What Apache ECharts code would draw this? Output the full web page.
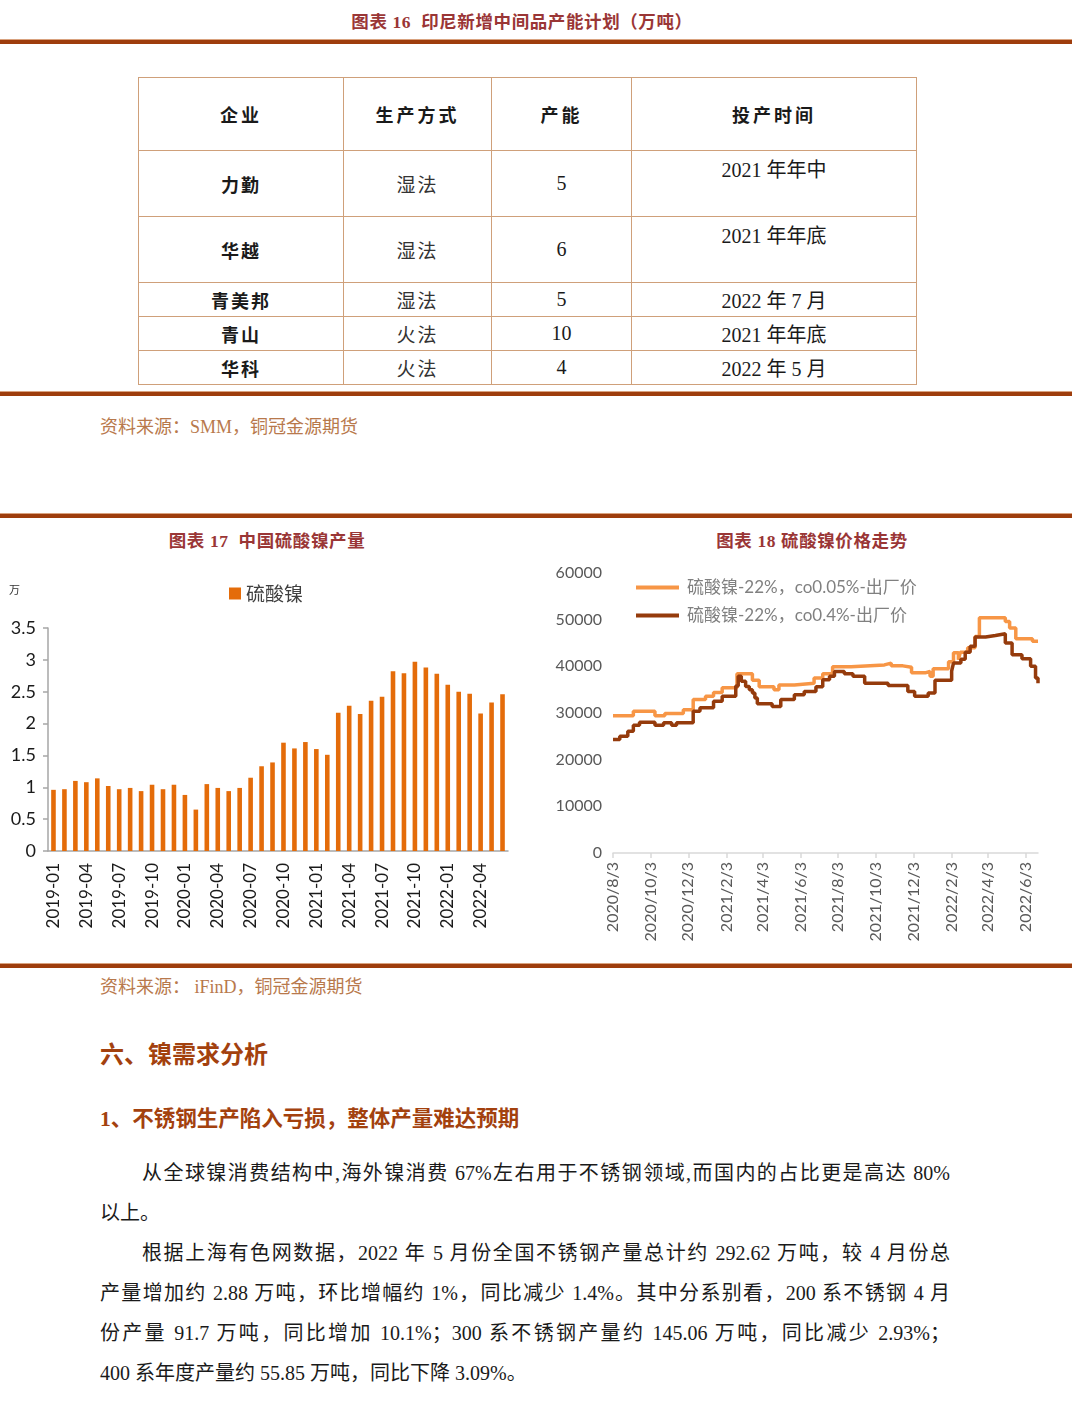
<!DOCTYPE html>
<html><head><meta charset="utf-8">
<script src="https://cdn.jsdelivr.net/npm/echarts@6/dist/echarts.min.js"></script>
<style>
html,body{margin:0;padding:0;background:#fff;}
#page{position:relative;width:1080px;height:1410px;overflow:hidden;font-family:"Liberation Serif","Noto Sans CJK SC",serif;color:#1a1a1a;}
.rule{position:absolute;left:0;width:1072px;height:4px;background:#9E3D0D;border-top:1px solid #D9A27F;}
.ttl{position:absolute;font-family:"Liberation Serif","Noto Sans CJK SC";font-weight:bold;color:#9A3636;font-size:17.5px;white-space:nowrap;transform:translate(-50%,-50%);letter-spacing:0.6px;}
.src{position:absolute;left:100px;font-size:18px;color:#B8794C;white-space:nowrap;transform:translateY(-50%);}
.h1{position:absolute;left:100px;font-family:"Noto Sans CJK SC";font-weight:bold;font-size:24px;color:#A3410E;white-space:nowrap;transform:translateY(-50%);}
.h2{position:absolute;left:100px;font-family:"Liberation Serif","Noto Sans CJK SC";font-weight:bold;font-size:21.5px;color:#A3410E;white-space:nowrap;transform:translateY(-50%);}
.ln{position:absolute;height:40px;line-height:40px;font-size:20px;color:#1a1a1a;white-space:normal;}
.just{text-align:justify;text-align-last:justify;}
#tbl{position:absolute;left:138px;top:77px;border-collapse:collapse;table-layout:fixed;width:778px;}
#tbl td,#tbl th{border:1.5px solid #CFA07A;text-align:center;vertical-align:middle;padding:0;font-size:20px;}
#tbl th{font-family:"Noto Sans CJK SC";font-weight:bold;font-size:18px;letter-spacing:3px;}
#tbl td.c0{font-family:"Noto Sans CJK SC";font-weight:bold;font-size:18px;letter-spacing:2px;}
#tbl td.cm{font-family:"Noto Sans CJK SC";font-size:19px;color:#333;letter-spacing:2px;}
#tbl td.top{vertical-align:top;padding-top:3px;}
</style>
</head><body>
<div id="page">
  <div class="ttl" style="left:522px;top:20px;">图表 16&nbsp; 印尼新增中间品产能计划（万吨）</div>
  <div class="rule" style="top:39px;"></div>
  <table id="tbl"></table>
  <div class="rule" style="top:391px;"></div>
  <div class="src" style="top:425px;">资料来源：SMM，铜冠金源期货</div>
  <div class="rule" style="top:513px;"></div>
  <div class="ttl" style="left:267px;top:539px;">图表 17&nbsp; 中国硫酸镍产量</div>
  <div class="ttl" style="left:812px;top:539px;">图表 18 硫酸镍价格走势</div>
  <div id="c1" style="position:absolute;left:0;top:560px;width:530px;height:390px;"></div>
  <div id="c2" style="position:absolute;left:540px;top:560px;width:540px;height:390px;"></div>
  <div class="rule" style="top:963px;"></div>
  <div class="src" style="top:985px;">资料来源： iFinD，铜冠金源期货</div>
  <div class="h1" style="top:1052px;">六、镍需求分析</div>
  <div class="h2" style="top:1116px;">1、不锈钢生产陷入亏损，整体产量难达预期</div>
  <div class="ln just" style="left:142px;width:808px;top:1153px;">从全球镍消费结构中,海外镍消费 67%左右用于不锈钢领域,而国内的占比更是高达 80%</div>
  <div class="ln" style="left:100px;top:1193px;">以上。</div>
  <div class="ln just" style="left:142px;width:808px;top:1233px;">根据上海有色网数据，2022 年 5 月份全国不锈钢产量总计约 292.62 万吨，较 4 月份总</div>
  <div class="ln just" style="left:100px;width:850px;top:1273px;">产量增加约 2.88 万吨，环比增幅约 1%，同比减少 1.4%。其中分系别看，200 系不锈钢 4 月</div>
  <div class="ln just" style="left:100px;width:850px;top:1313px;">份产量 91.7 万吨，同比增加 10.1%；300 系不锈钢产量约 145.06 万吨，同比减少 2.93%；</div>
  <div class="ln" style="left:100px;top:1353px;">400 系年度产量约 55.85 万吨，同比下降 3.09%。</div>
</div>
<script>
// ---------- Table data ----------
const tableHeader = ['企业', '生产方式', '产能', '投产时间'];
const tableCompany = ['力勤', '华越', '青美邦', '青山', '华科'];
const tableMethod = ['湿法', '湿法', '湿法', '火法', '火法'];
const tableCapacity = ['5', '6', '5', '10', '4'];
const tableTime = ['2021 年年中', '2021 年年底', '2022 年 7 月', '2021 年年底', '2022 年 5 月'];

// ---------- Chart 17 data ----------
const barCategories = ['2019-01','2019-02','2019-03','2019-04','2019-05','2019-06','2019-07','2019-08','2019-09','2019-10','2019-11','2019-12',
  '2020-01','2020-02','2020-03','2020-04','2020-05','2020-06','2020-07','2020-08','2020-09','2020-10','2020-11','2020-12',
  '2021-01','2021-02','2021-03','2021-04','2021-05','2021-06','2021-07','2021-08','2021-09','2021-10','2021-11','2021-12',
  '2022-01','2022-02','2022-03','2022-04','2022-05','2022-06'];
const barValues = [0.96,0.97,1.10,1.08,1.14,1.02,0.97,0.99,0.94,1.04,0.97,1.04,
  0.88,0.65,1.05,0.99,0.94,0.99,1.15,1.33,1.39,1.70,1.61,1.71,
  1.60,1.51,2.17,2.28,2.15,2.36,2.42,2.82,2.79,2.97,2.88,2.78,
  2.61,2.50,2.47,2.16,2.33,2.46];

// ---------- Chart 18 data ----------
const lineXTickLabels = ['2020/8/3','2020/10/3','2020/12/3','2021/2/3','2021/4/3','2021/6/3','2021/8/3','2021/10/3','2021/12/3','2022/2/3','2022/4/3','2022/6/3'];
const lineXMin = '2020/8/3';
const lineXMax = '2022/6/23';
const lightName = '硫酸镍-22%，co0.05%-出厂价';
const lightDates = ['2020/8/3','2020/9/5','2020/10/10','2020/10/26','2020/11/25','2020/12/11','2020/12/31','2021/1/13','2021/1/27','2021/2/20','2021/3/17','2021/3/28','2021/4/21','2021/4/29','2021/5/24','2021/6/25','2021/7/9','2021/7/25','2021/8/24','2021/10/17','2021/10/28','2021/11/16','2021/11/30','2021/12/22','2021/12/30','2022/1/4','2022/1/29','2022/2/6','2022/2/14','2022/2/17','2022/3/1','2022/3/13','2022/3/20','2022/5/1','2022/5/8','2022/5/18','2022/6/14','2022/6/23'];
const lightValues = [29400,30400,29400,29900,30700,32900,33600,34400,35400,38400,37000,35600,35000,36000,36400,37500,38400,39900,40300,40700,40100,39800,38600,38900,37900,39500,41000,42900,41400,43000,44000,46400,50400,49600,48200,45900,45400,45400];
const darkName = '硫酸镍-22%，co0.4%-出厂价';
const darkDates = ['2020/8/3','2020/8/14','2020/8/27','2020/9/5','2020/9/15','2020/10/10','2020/10/24','2020/11/6','2020/11/14','2020/12/11','2020/12/22','2021/1/13','2021/1/27','2021/2/18','2021/2/22','2021/2/27','2021/3/6','2021/3/12','2021/3/17','2021/3/21','2021/3/25','2021/4/18','2021/5/2','2021/5/24','2021/6/9','2021/6/28','2021/7/9','2021/7/20','2021/7/28','2021/8/13','2021/8/27','2021/9/15','2021/10/23','2021/11/24','2021/12/5','2021/12/27','2022/1/7','2022/2/3','2022/2/6','2022/2/18','2022/2/25','2022/3/5','2022/3/13','2022/3/30','2022/4/15','2022/5/1','2022/5/12','2022/5/28','2022/6/11','2022/6/19','2022/6/23'];
const darkValues = [24300,25000,26100,27400,28000,27400,27900,27400,27900,30400,31100,32500,33600,35800,37900,36800,35700,35000,34300,33200,32000,31400,32900,33900,34600,35600,37100,37900,38900,38400,37900,36400,35900,34600,33600,34300,37000,39000,40700,41500,43000,44300,46300,46600,47000,45000,42500,41600,40000,37500,36400];

// ---------- build table ----------
(function(){
  const tbl = document.getElementById('tbl');
  const widths = [205,148,140,285];
  const heights = [73,66,66,34,34,34];
  let html = '<colgroup>' + widths.map(w => '<col style="width:'+w+'px">').join('') + '</colgroup>';
  html += '<tr style="height:'+heights[0]+'px">' + tableHeader.map(h => '<th>'+h+'</th>').join('') + '</tr>';
  for (let i = 0; i < tableCompany.length; i++) {
    const topCls = heights[i+1] > 40 ? ' top' : '';
    html += '<tr style="height:'+heights[i+1]+'px"><td class="c0">'+tableCompany[i]+'</td><td class="cm">'+tableMethod[i]+'</td><td>'+tableCapacity[i]+'</td><td class="'+topCls+'">'+tableTime[i]+'</td></tr>';
  }
  tbl.innerHTML = html;
})();

function ts(s){ const p = s.split('/').map(Number); return Date.UTC(p[0], p[1]-1, p[2]); }
function fmt(v){ const d = new Date(v); return d.getUTCFullYear()+'/'+(d.getUTCMonth()+1)+'/'+d.getUTCDate(); }

const fontLat = 'Lato, "Noto Sans CJK SC", sans-serif';

// ---------- chart 17 ----------
const c1 = echarts.init(document.getElementById('c1'));
c1.setOption({
  animation: false,
  textStyle: { fontFamily: fontLat },
  grid: { left: 48, right: 22, top: 68, bottom: 99 },
  legend: {
    left: 224, top: 19, icon: 'rect', itemWidth: 12, itemHeight: 12, itemGap: 8,
    textStyle: { fontSize: 19, color: '#404040', fontFamily: '"Noto Sans CJK SC"' },
    data: ['硫酸镍']
  },
  graphic: [{ type: 'text', left: 9, top: 24, style: { text: '万', fontSize: 11, fill: '#333', fontFamily: '"Noto Sans CJK SC"' } }],
  xAxis: {
    type: 'category', data: barCategories, boundaryGap: true,
    axisLine: { lineStyle: { color: '#A6A6A6', width: 1.5 } },
    axisTick: { interval: 2, length: 6, lineStyle: { color: '#A6A6A6', width: 1.5 } },
    axisLabel: { interval: 2, rotate: 90, fontSize: 17, color: '#1a1a1a', margin: 12 }
  },
  yAxis: {
    type: 'value', min: 0, max: 3.5, interval: 0.5,
    axisLine: { show: true, lineStyle: { color: '#A6A6A6', width: 1.5 } },
    axisTick: { show: true, length: 5, lineStyle: { color: '#A6A6A6', width: 1.5 } },
    splitLine: { show: false },
    axisLabel: { fontSize: 18, color: '#1a1a1a', margin: 12 }
  },
  series: [{ name: '硫酸镍', type: 'bar', data: barValues, barWidth: 4.6, itemStyle: { color: '#E46C0A' } }]
});

// ---------- chart 18 ----------
const tickTs = lineXTickLabels.map(ts);
const c2 = echarts.init(document.getElementById('c2'));
c2.setOption({
  animation: false,
  textStyle: { fontFamily: fontLat },
  grid: { left: 73, right: 42, top: 13, bottom: 97 },
  legend: {
    orient: 'vertical', left: 91, top: 14, icon: 'rect', itemWidth: 43, itemHeight: 4, itemGap: 11,
    textStyle: { fontSize: 17, color: '#808080', padding: [0, 0, 0, 3] },
    data: [lightName, darkName]
  },
  xAxis: {
    type: 'value', min: ts(lineXMin), max: ts(lineXMax),
    axisLine: { show: true, onZero: false, lineStyle: { color: '#D9D9D9', width: 1.5 } },
    axisTick: { show: true, length: 5, lineStyle: { color: '#D9D9D9', width: 1.5 }, customValues: tickTs },
    axisLabel: { customValues: tickTs, rotate: 90, fontSize: 16, color: '#595959', margin: 9, formatter: fmt, showMinLabel: true, showMaxLabel: true },
    splitLine: { show: false }
  },
  yAxis: {
    type: 'value', min: 0, max: 60000, interval: 10000,
    axisLine: { show: false }, axisTick: { show: false }, splitLine: { show: false },
    axisLabel: { fontSize: 16, color: '#595959', margin: 11, formatter: v => String(v) }
  },
  series: [
    { name: lightName, type: 'line', step: 'end', showSymbol: false, data: lightDates.map((d, i) => [ts(d), lightValues[i]]),
      lineStyle: { width: 3.5, color: '#F79646' }, itemStyle: { color: '#F79646' } },
    { name: darkName, type: 'line', step: 'end', showSymbol: false, data: darkDates.map((d, i) => [ts(d), darkValues[i]]),
      lineStyle: { width: 3.5, color: '#953B0C' }, itemStyle: { color: '#953B0C' } }
  ]
});
</script>
</body></html>
